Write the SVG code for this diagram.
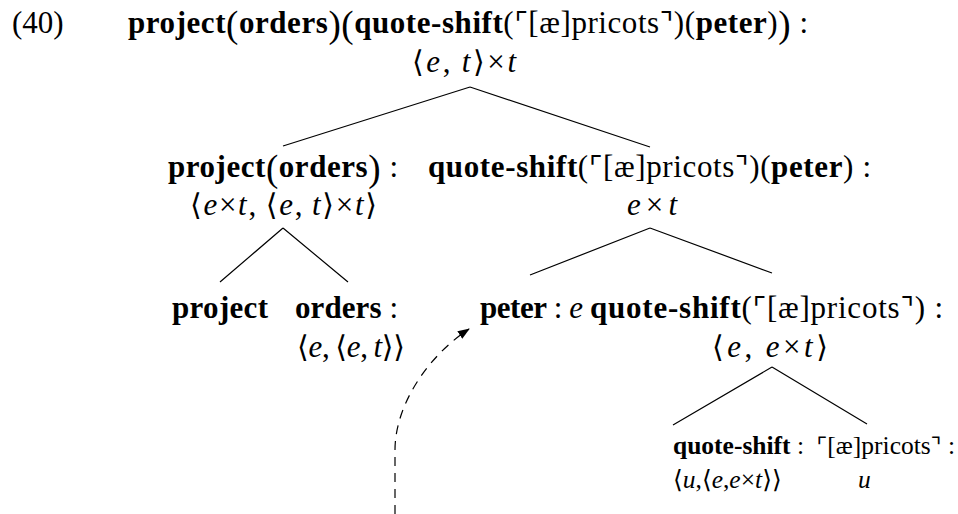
<svg xmlns="http://www.w3.org/2000/svg" width="958" height="514" viewBox="0 0 958 514">
<style>
text{font-family:"Liberation Serif","DejaVu Serif",serif;font-size:31px;fill:#000}
.b{font-weight:bold}
.i{font-style:italic}
.br{font-family:"DejaVu Sans","DejaVu Serif",sans-serif;font-weight:normal;font-style:normal;font-size:30px}
.c{font-family:"DejaVu Sans",sans-serif;font-size:29px}
.big{font-size:37px;font-weight:normal}
.sm{font-size:25.5px}
.sm .br{font-size:25px}
.sm .c{font-size:23px}
.edge{stroke:#000;stroke-width:1.2;fill:none}
.dash{stroke:#000;stroke-width:1.2;fill:none;stroke-dasharray:9 7}
</style>
<defs>
<marker id="ah" viewBox="0 0 12 9" refX="11" refY="4.5" markerWidth="12" markerHeight="9" markerUnits="userSpaceOnUse" orient="auto"><path d="M0,0 L12,4.5 L0,9 z" fill="#000"/></marker>
</defs>
<text x="12" y="33">(40)</text>
<g id="root">
<text x="128" y="33" textLength="680" lengthAdjust="spacing"><tspan class="b">project</tspan><tspan class="big" dy="4">(</tspan><tspan class="b" dy="-4">orders</tspan><tspan class="big" dy="4">)</tspan><tspan class="big">(</tspan><tspan class="b" dy="-4">quote-shift</tspan>(<tspan class="c">⌜</tspan>[æ]pricots<tspan class="c">⌝</tspan>)(<tspan class="b">peter</tspan>)<tspan class="big" dy="4">)</tspan><tspan dy="-4"> :</tspan></text>
<text x="412" y="72" textLength="104" lengthAdjust="spacing"><tspan class="br">⟨</tspan><tspan class="i">e</tspan>,&#8201;<tspan class="i">t</tspan><tspan class="br">⟩</tspan>×<tspan class="i">t</tspan></text>
</g>
<g id="n-project-orders">
<text x="168" y="177" textLength="230" lengthAdjust="spacing"><tspan class="b">project</tspan><tspan class="big" dy="4">(</tspan><tspan class="b" dy="-4">orders</tspan><tspan class="big" dy="4">)</tspan><tspan dy="-4"> :</tspan></text>
<text x="190" y="215" textLength="187" lengthAdjust="spacing"><tspan class="br">⟨</tspan><tspan class="i">e</tspan>×<tspan class="i">t</tspan>,&#8201;<tspan class="br">⟨</tspan><tspan class="i">e</tspan>,&#8201;<tspan class="i">t</tspan><tspan class="br">⟩</tspan>×<tspan class="i">t</tspan><tspan class="br">⟩</tspan></text>
</g>
<g id="n-qs-peter">
<text x="428" y="177" textLength="443" lengthAdjust="spacing"><tspan class="b">quote-shift</tspan>(<tspan class="c">⌜</tspan>[æ]pricots<tspan class="c">⌝</tspan>)(<tspan class="b">peter</tspan>) :</text>
<text x="627" y="215" textLength="50" lengthAdjust="spacing"><tspan class="i">e</tspan>×<tspan class="i">t</tspan></text>
</g>
<g id="n-project">
<text x="172" y="318" textLength="96" lengthAdjust="spacing" class="b">project</text>
</g>
<g id="n-orders">
<text x="295" y="318" textLength="103" lengthAdjust="spacing"><tspan class="b">orders</tspan> :</text>
<text x="297" y="357" textLength="108" lengthAdjust="spacing"><tspan class="br">⟨</tspan><tspan class="i">e</tspan>,&#8201;<tspan class="br">⟨</tspan><tspan class="i">e</tspan>,&#8201;<tspan class="i">t</tspan><tspan class="br">⟩⟩</tspan></text>
</g>
<g id="n-peter">
<text x="480" y="318" textLength="103" lengthAdjust="spacing"><tspan class="b">peter</tspan> : <tspan class="i">e</tspan></text>
</g>
<g id="n-qs-apricots">
<text x="590" y="318" textLength="353" lengthAdjust="spacing"><tspan class="b">quote-shift</tspan>(<tspan class="c">⌜</tspan>[æ]pricots<tspan class="c">⌝</tspan>) :</text>
<text x="712" y="357" textLength="116" lengthAdjust="spacing"><tspan class="br">⟨</tspan><tspan class="i">e</tspan>,&#8201;<tspan class="i">e</tspan>×<tspan class="i">t</tspan><tspan class="br">⟩</tspan></text>
</g>
<g id="n-qs">
<text x="673" y="454" class="sm"><tspan class="b">quote-shift</tspan> :</text>
<text x="673" y="488" class="sm"><tspan class="br">⟨</tspan><tspan class="i">u</tspan>,<tspan class="br">⟨</tspan><tspan class="i">e</tspan>,<tspan class="i">e</tspan>×<tspan class="i">t</tspan><tspan class="br">⟩⟩</tspan></text>
</g>
<g id="n-apricots">
<text x="955" y="454" class="sm" text-anchor="end"><tspan class="c">⌜</tspan>[æ]pricots<tspan class="c">⌝</tspan> :</text>
<text x="858" y="488" class="sm i">u</text>
</g>
<g id="connectors">
<path class="edge" d="M470,87 L283,146 M470,87 L650,147 M283,228 L220,282 M283,228 L348,282 M650,228 L530,275 M650,228 L772,273 M772,367 L673,425 M772,367 L867,424"/>
<path class="dash" d="M395,514 L395,450 C395,405 428,356 469,329" marker-end="url(#ah)"/>
</g>
</svg>
